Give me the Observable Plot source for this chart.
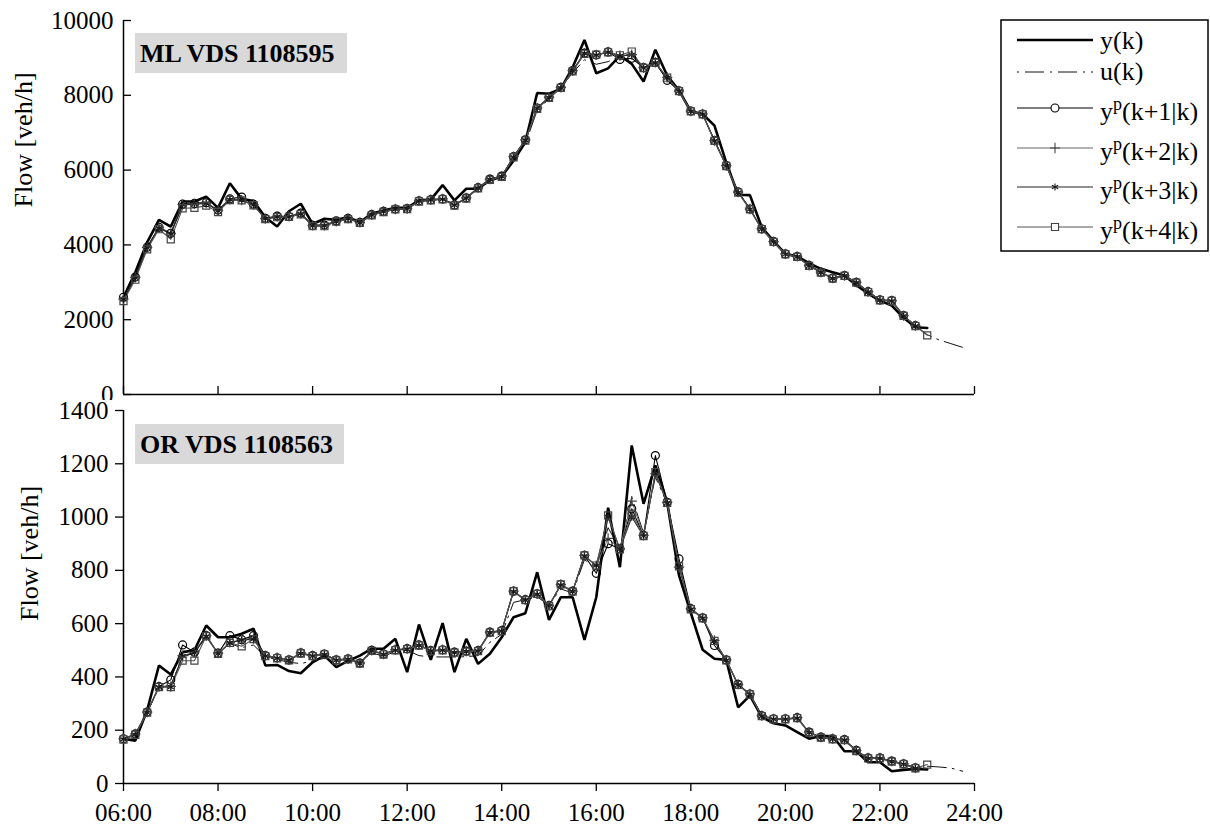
<!DOCTYPE html>
<html>
<head>
<meta charset="utf-8">
<script src="https://cdn.jsdelivr.net/npm/d3@7"></script>
<script src="https://cdn.jsdelivr.net/npm/@observablehq/plot@0.6"></script>
<style>
  html, body { margin: 0; padding: 0; background: white; }
  #wrap { position: relative; width: 1210px; height: 829px; overflow: hidden; font-family: 'Liberation Serif', 'Times New Roman', serif; }
  .panel { position: absolute; left: 0; }
  .tag { position: absolute; background: #d9d9d9; font-weight: bold; font-size: 26px; height: 40px; line-height: 41px; padding-left: 5px; box-sizing: border-box; color: #000; white-space: nowrap; font-family: 'Liberation Serif', serif; }
  #legend { position: absolute; left: 1000px; top: 19px; }
  svg text { font-family: 'Liberation Serif', serif; }
</style>
</head>
<body>
<div id="wrap">
  <div class="panel" id="topPanel" style="top:0px"></div>
  <div class="panel" id="botPanel" style="top:400px"></div>
  <div class="tag" style="left:135px; top:33px; width:212px;">ML VDS 1108595</div>
  <div class="tag" style="left:135px; top:424px; width:209px;">OR VDS 1108563</div>
  <svg id="legend" width="210" height="233"></svg>
</div>
<script>
// ---------------- data ----------------
const startHour = 6;          // first sample at 06:00
const stepHours = 0.25;       // 15-minute samples
const xTicks = [6, 8, 10, 12, 14, 16, 18, 20, 22, 24];
const xTickLabels = ["06:00", "08:00", "10:00", "12:00", "14:00", "16:00", "18:00", "20:00", "22:00", "24:00"];
const yTicksTop = [0, 2000, 4000, 6000, 8000, 10000];
const yTicksBot = [0, 200, 400, 600, 800, 1000, 1200, 1400];
const yLabel = "Flow [veh/h]";
const seriesNames = ["y(k)", "u(k)", "k+1|k", "k+2|k", "k+3|k", "k+4|k"];

// ML VDS 1108595 (mainline)
const mlY = [2600,3270,4070,4670,4490,5160,5160,5290,4990,5650,5230,5170,4740,4490,4900,5100,4560,4700,4670,4740,4610,4830,4920,4990,4990,5190,5210,5600,5190,5500,5500,5730,5830,6250,6750,8060,8040,8170,8750,9480,8590,8720,9060,8840,8370,9220,8530,8130,7570,7500,7190,6200,5340,5330,4470,4100,3760,3690,3510,3360,3270,3180,2920,2700,2510,2380,2050,1800,1780];
const mlU = [2550,3150,3950,4450,4320,5050,5100,5120,4930,5200,5220,5080,4720,4750,4760,4830,4530,4530,4630,4700,4610,4800,4890,4960,4980,5170,5200,5220,5100,5250,5500,5720,5800,6300,6700,7600,7900,8200,8600,8950,8830,8900,9050,9080,8750,8850,8450,8100,7580,7480,6800,6130,5420,4980,4430,4090,3760,3690,3460,3280,3120,3170,3000,2760,2530,2500,2110,1850,1600,1460,1360,1260];
const mlP1 = [2600,3140,3940,4470,4310,5090,5110,5130,4930,5230,5280,5090,4710,4770,4760,4850,4520,4530,4640,4710,4600,4810,4900,4960,4970,5180,5210,5230,5070,5260,5530,5760,5840,6360,6810,7660,7950,8210,8660,9130,9080,9160,8960,8990,8740,8880,8400,8120,7580,7500,6790,6120,5420,4960,4430,4090,3760,3690,3450,3270,3110,3180,3000,2750,2530,2510,2110,1840];
const mlP2 = [2550,3130,3930,4460,4300,5080,5100,5120,4920,5220,5200,5080,4700,4760,4760,4840,4520,4520,4630,4710,4600,4810,4900,4960,4970,5180,5210,5230,5070,5260,5530,5760,5840,6360,6810,7660,7950,8210,8660,9130,9080,9160,9060,9090,8740,8880,8480,8120,7580,7500,6790,6120,5410,4960,4430,4090,3760,3690,3450,3270,3110,3180,3000,2750,2530,2510,2110,1840];
const mlP3 = [2540,3120,3920,4450,4290,5070,5090,5110,4910,5210,5190,5070,4700,4750,4750,4830,4510,4510,4620,4700,4590,4800,4890,4950,4960,5170,5200,5220,5060,5250,5520,5750,5830,6350,6800,7650,7940,8200,8650,9120,9070,9150,9050,9080,8730,8870,8470,8110,7570,7490,6780,6110,5400,4950,4420,4080,3750,3680,3440,3260,3100,3170,2990,2740,2520,2500,2100,1830];
const mlP4 = [2500,3070,3880,4420,4150,4980,4990,5050,4880,5200,5190,5060,4690,4740,4750,4820,4500,4500,4620,4690,4590,4790,4880,4950,4960,5160,5190,5220,5050,5240,5510,5740,5820,6340,6790,7640,7930,8200,8640,9110,9090,9150,9070,9170,8730,8870,8470,8110,7570,7490,6780,6110,5400,4950,4420,4080,3750,3680,3440,3260,3100,3170,2990,2740,2520,2500,2100,1830,1580];

// OR VDS 1108563 (on-ramp)
const orY = [168,161,275,443,409,493,500,593,549,549,562,581,443,445,422,414,455,480,437,460,480,506,506,543,418,597,464,602,418,543,449,487,549,624,639,793,614,699,699,539,699,1035,812,1269,1050,1194,1055,781,640,502,468,464,286,330,250,226,218,193,168,178,178,121,121,80,80,46,51,55,53];
const orU = [168,180,265,360,370,475,490,550,490,525,510,520,475,465,455,450,460,470,462,466,455,490,478,495,500,480,475,475,475,476,480,530,560,680,690,700,670,730,715,840,810,960,880,1075,940,1150,1050,820,655,620,530,462,370,335,255,242,242,245,192,173,168,163,123,95,95,83,73,60,65,62,58,46];
const orP1 = [168,186,268,364,389,520,493,555,489,555,540,555,480,472,464,490,480,486,464,468,452,500,486,502,506,520,499,502,493,497,499,568,574,722,690,712,668,747,722,856,789,900,881,1031,931,1231,1055,843,656,622,518,464,372,336,255,243,243,247,193,174,168,165,124,96,96,84,74,59];
const orP2 = [168,186,268,364,364,480,493,555,489,530,540,544,480,472,464,490,480,486,464,468,452,500,486,502,506,520,499,502,493,497,499,568,574,722,690,712,668,747,722,856,818,920,881,1060,931,1163,1055,812,656,622,537,464,372,336,255,243,243,247,193,174,168,165,124,96,96,84,74,59];
const orP3 = [166,184,266,362,362,478,490,552,487,528,538,542,478,470,462,488,478,484,462,466,450,498,484,500,504,518,497,500,491,495,497,566,572,720,688,710,666,745,720,854,818,1000,879,1000,929,1163,1053,812,654,620,535,462,370,334,253,241,241,245,191,172,166,163,122,94,94,82,72,57];
const orP4 = [165,183,266,362,362,461,461,553,487,528,515,542,478,470,462,488,478,484,462,466,450,498,484,500,504,518,497,500,491,495,497,566,572,722,688,712,666,747,720,856,818,1006,879,1013,929,1169,1053,815,654,620,535,462,370,334,253,241,241,245,191,172,166,163,122,94,94,82,72,57,71];

// ---------------- drawing ----------------
const pts = arr => arr.map((v, i) => ({t: startHour + i * stepHours, v}));
const FONT = "'Liberation Serif', 'Times New Roman', serif";
const numFmt = d => String(d);

const sty = {
  y:  {stroke: "#000", w: 2.6},
  u:  {stroke: "#111", w: 1, dash: "19,6,2,6"},
  p1: {stroke: "#000", w: 1.1, sym: "circle", r: 4, ms: "#000"},
  p2: {stroke: "#666", w: 1, sym: "plus", r: 3.4, ms: "#444"},
  p3: {stroke: "#222", w: 1.1, sym: "asterisk", r: 3.4, ms: "#1a1a1a"},
  p4: {stroke: "#555", w: 1.1, sym: "square", r: 4, ms: "#444"}
};

function seriesMarks(Y, U, P1, P2, P3, P4) {
  const out = [
    Plot.line(pts(Y), {x: "t", y: "v", stroke: sty.y.stroke, strokeWidth: sty.y.w, strokeLinejoin: "miter"}),
    Plot.line(pts(U), {x: "t", y: "v", stroke: sty.u.stroke, strokeWidth: sty.u.w, strokeDasharray: sty.u.dash})
  ];
  [[P1, sty.p1], [P2, sty.p2], [P3, sty.p3], [P4, sty.p4]].forEach(([P, s]) => {
    out.push(Plot.line(pts(P), {x: "t", y: "v", stroke: s.stroke, strokeWidth: s.w}));
  });
  [[P1, sty.p1], [P2, sty.p2], [P3, sty.p3], [P4, sty.p4]].forEach(([P, s]) => {
    out.push(Plot.dot(pts(P), {x: "t", y: "v", symbol: s.sym, r: s.r, stroke: s.ms, fill: "none", strokeWidth: 1.2}));
  });
  return out;
}

const baseStyle = {fontFamily: FONT, fontSize: "25px", color: "#000", background: "transparent", overflow: "visible"};

const topPlot = Plot.plot({
  width: 1000, height: 400,
  marginLeft: 123, marginRight: 26, marginTop: 20, marginBottom: 6,
  style: baseStyle,
  x: {domain: [6, 24], label: null},
  y: {domain: [0, 10000], label: null},
  marks: [
    Plot.axisX({ticks: xTicks, tickSize: -8, tickFormat: () => "", strokeWidth: 1.3}),
    Plot.axisY({ticks: yTicksTop, tickSize: -8, tickFormat: () => "", strokeWidth: 1.3}),
    Plot.axisY({ticks: yTicksTop, tickSize: 0, tickPadding: 10, fontSize: 25, tickFormat: numFmt}),
    Plot.ruleX([xTicks[0]], {stroke: "#000", strokeWidth: 1.5}),
    Plot.ruleY([yTicksTop[0]], {stroke: "#000", strokeWidth: 1.5}),
    Plot.text([yLabel], {frameAnchor: "left", text: d => d, rotate: -90, dx: -100, fontSize: 26}),
    ...seriesMarks(mlY, mlU, mlP1, mlP2, mlP3, mlP4)
  ]
});
document.getElementById("topPanel").appendChild(topPlot);

const botPlot = Plot.plot({
  width: 1000, height: 429,
  marginLeft: 123, marginRight: 26, marginTop: 10, marginBottom: 46,
  style: {...baseStyle, background: "white"},
  x: {domain: [6, 24], label: null},
  y: {domain: [0, 1400], label: null},
  marks: [
    Plot.axisX({ticks: xTicks, tickSize: 8, tickPadding: 12, strokeWidth: 1.3, fontSize: 25,
      tickFormat: d => xTickLabels[xTicks.indexOf(d)]}),
    Plot.axisY({ticks: yTicksBot, tickSize: 8, tickPadding: 7, strokeWidth: 1.3, fontSize: 25, tickFormat: numFmt}),
    Plot.ruleX([xTicks[0]], {stroke: "#000", strokeWidth: 1.5}),
    Plot.ruleY([yTicksBot[0]], {stroke: "#000", strokeWidth: 1.5}),
    Plot.text([yLabel], {frameAnchor: "left", text: d => d, rotate: -90, dx: -94, dy: 24, fontSize: 26}),
    ...seriesMarks(orY, orU, orP1, orP2, orP3, orP4)
  ]
});
document.getElementById("botPanel").appendChild(botPlot);

// ---------------- legend ----------------
const lg = d3.select("#legend");
lg.append("rect").attr("x", 1).attr("y", 1).attr("width", 207).attr("height", 231)
  .attr("fill", "white").attr("stroke", "#000").attr("stroke-width", 1.5);
const symMap = {circle: d3.symbolCircle, plus: d3.symbolPlus, asterisk: d3.symbolAsterisk, square: d3.symbolSquare};
const rows = [
  {line: 21, base: 30, s: sty.y, main: seriesNames[0]},
  {line: 53, base: 61, s: sty.u, main: seriesNames[1]},
  {line: 89, base: 101, s: sty.p1, main: "(" + seriesNames[2] + ")"},
  {line: 129, base: 141, s: sty.p2, main: "(" + seriesNames[3] + ")"},
  {line: 168, base: 180, s: sty.p3, main: "(" + seriesNames[4] + ")"},
  {line: 208, base: 220, s: sty.p4, main: "(" + seriesNames[5] + ")"}
];
rows.forEach((r, k) => {
  const ln = lg.append("line").attr("x1", 17).attr("x2", 93).attr("y1", r.line).attr("y2", r.line)
    .attr("stroke", r.s.stroke).attr("stroke-width", r.s.w);
  if (r.s.dash) ln.attr("stroke-dasharray", r.s.dash).attr("stroke-dashoffset", 25);
  if (r.s.sym) {
    lg.append("path").attr("d", d3.symbol(symMap[r.s.sym], Math.PI * r.s.r * r.s.r)())
      .attr("transform", `translate(55,${r.line})`).attr("fill", "white").attr("stroke", r.s.ms).attr("stroke-width", 1.1);
  }
  const t = lg.append("text").attr("x", 100).attr("y", r.base)
    .attr("font-size", 26).attr("fill", "#000");
  if (k < 2) {
    t.text(r.main);
  } else {
    t.append("tspan").text("y");
    t.append("tspan").attr("dy", -10).attr("font-size", 18).text("p");
    t.append("tspan").attr("dy", 10).text(r.main);
  }
});
</script>
</body>
</html>
